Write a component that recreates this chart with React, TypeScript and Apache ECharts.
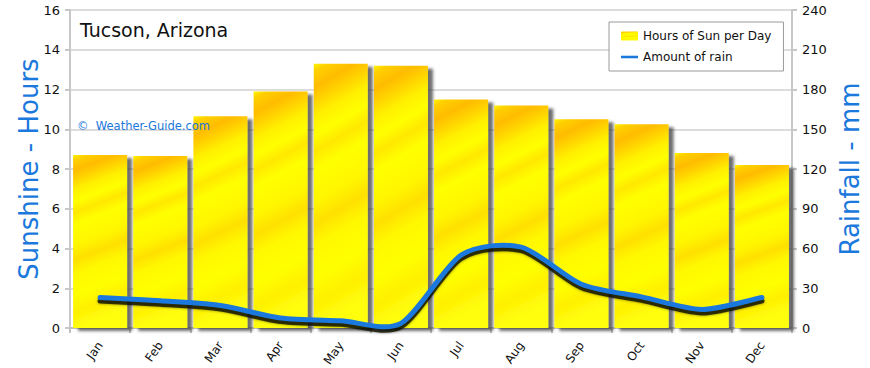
import React, { useEffect, useRef } from "react";
import * as echarts from "echarts";

const months = ["Jan", "Feb", "Mar", "Apr", "May", "Jun", "Jul", "Aug", "Sep", "Oct", "Nov", "Dec"];
const sunHours = [8.7, 8.65, 10.65, 11.9, 13.3, 13.2, 11.5, 11.2, 10.5, 10.25, 8.8, 8.2];
const rainMm = [23, 20.5, 17, 7.5, 5.5, 3.5, 55, 61, 33, 23.5, 14, 23];
const sunTicks = { min: 0, max: 16, interval: 2 };
const rainTicks = { min: 0, max: 240, interval: 30 };

const BLUE = "#1b78dc";
const FONT = "'DejaVu Sans', sans-serif";

function splinePath(pts: number[][], k: number): string {
  if (!pts.length) return "";
  let d = `M${pts[0][0]},${pts[0][1]}`;
  for (let i = 0; i < pts.length - 1; i++) {
    const p0 = pts[Math.max(0, i - 1)];
    const p1 = pts[i];
    const p2 = pts[i + 1];
    const p3 = pts[Math.min(pts.length - 1, i + 2)];
    const c1x = p1[0] + (k * (p2[0] - p0[0])) / 6;
    const c1y = p1[1] + (k * (p2[1] - p0[1])) / 6;
    const c2x = p2[0] - (k * (p3[0] - p1[0])) / 6;
    const c2y = p2[1] - (k * (p3[1] - p1[1])) / 6;
    d += ` C${c1x},${c1y} ${c2x},${c2y} ${p2[0]},${p2[1]}`;
  }
  return d;
}

export default function App() {
  const ref = useRef<HTMLDivElement>(null);
  useEffect(() => {
    if (!ref.current) return;
    const chart = echarts.init(ref.current, undefined, { renderer: "svg" });
    const barFill = new echarts.graphic.LinearGradient(0, 0, 0.12, 1, [
      { offset: 0, color: "#fff400" },
      { offset: 0.03, color: "#ffd000" },
      { offset: 0.09, color: "#ffbc00" },
      { offset: 0.14, color: "#ffd200" },
      { offset: 0.2, color: "#fff000" },
      { offset: 0.27, color: "#ffff00" },
      { offset: 0.33, color: "#ffe800" },
      { offset: 0.4, color: "#ffff00" },
      { offset: 0.52, color: "#fff600" },
      { offset: 0.6, color: "#ffe000" },
      { offset: 0.68, color: "#fff800" },
      { offset: 0.8, color: "#ffff00" },
      { offset: 0.9, color: "#fff000" },
      { offset: 1, color: "#ffff10" },
    ]);
    chart.setOption({
      animation: false,
      backgroundColor: "#ffffff",
      textStyle: { fontFamily: FONT },
      grid: { left: 70, right: 78, top: 10, bottom: 40, containLabel: false, outerBoundsMode: "none" },
      legend: {
        orient: "vertical",
        left: 609,
        top: 22,
        width: 176,
        backgroundColor: "#ffffff",
        borderColor: "#9a9a9a",
        borderWidth: 1,
        borderRadius: 0,
        padding: [8, 12, 8, 12],
        itemGap: 9,
        itemWidth: 17,
        itemHeight: 9,
        textStyle: { fontFamily: FONT, fontSize: 12, color: "#111" },
        data: [
          { name: "Hours of Sun per Day", icon: "rect" },
          { name: "Amount of rain", icon: "path://M0,4 L20,4 L20,7 L0,7 Z" },
        ],
      },
      graphic: [
        {
          type: "text",
          left: 80,
          top: 20,
          z: 100,
          style: { text: "Tucson, Arizona", fontFamily: FONT, fontSize: 19, fill: "#111" },
        },
        {
          type: "text",
          left: 77,
          top: 120,
          z: 100,
          style: { text: "©  Weather-Guide.com", fontFamily: FONT, fontSize: 11.5, fill: BLUE },
        },
      ],
      xAxis: {
        type: "category",
        data: months,
        boundaryGap: true,
        axisLine: { show: true, lineStyle: { color: "#c0c0c0", width: 2 } },
        axisTick: { show: true, length: 5, lineStyle: { color: "#c0c0c0", width: 2 } },
        axisLabel: { rotate: 55, fontSize: 12, color: "#111", margin: 15, fontFamily: FONT },
        splitLine: { show: false },
      },
      yAxis: [
        {
          type: "value",
          ...sunTicks,
          name: "Sunshine - Hours",
          nameLocation: "middle",
          nameGap: 28,
          nameMoveOverlap: false,
          nameRotate: 90,
          nameTextStyle: { color: BLUE, fontSize: 26, fontFamily: FONT },
          axisLine: { show: true, lineStyle: { color: "#c8c8c8", width: 2 } },
          axisTick: { show: true, length: 5, lineStyle: { color: "#c8c8c8", width: 2 } },
          axisLabel: { fontSize: 13, color: "#111", margin: 10, fontFamily: FONT },
          splitLine: { show: true, lineStyle: { color: "#dcdcdc", width: 2 } },
        },
        {
          type: "value",
          ...rainTicks,
          name: "Rainfall - mm",
          nameLocation: "middle",
          nameGap: 45,
          nameMoveOverlap: false,
          nameRotate: 90,
          nameTextStyle: { color: BLUE, fontSize: 26, fontFamily: FONT },
          axisLine: { show: true, lineStyle: { color: "#c8c8c8", width: 2 } },
          axisTick: { show: true, length: 5, lineStyle: { color: "#c8c8c8", width: 2 } },
          axisLabel: { fontSize: 13, color: "#111", margin: 10, fontFamily: FONT },
          splitLine: { show: false },
        },
      ],
      series: [
        {
          name: "Hours of Sun per Day",
          type: "bar",
          yAxisIndex: 0,
          data: sunHours,
          barWidth: 54,
          itemStyle: {
            color: barFill,
            shadowColor: "rgba(60,60,60,0.75)",
            shadowBlur: 3,
            shadowOffsetX: 5,
            shadowOffsetY: 3,
          },
        },
        {
          name: "Amount of rain",
          type: "custom",
          yAxisIndex: 1,
          data: rainMm.map((v, i) => [i, v]),
          encode: { x: 0, y: 1 },
          itemStyle: { color: BLUE },
          z: 5,
          renderItem: (params: any, api: any) => {
            if (params.dataIndex !== 0) return null;
            const pts = rainMm.map((v, i) => api.coord([i, v]));
            const d = splinePath(pts, 0.8);
            return {
              type: "group",
              children: [
                {
                  type: "path",
                  shape: { pathData: d },
                  style: {
                    fill: "none",
                    stroke: "rgba(20,20,0,0.8)",
                    lineWidth: 5,
                    lineCap: "round",
                    shadowColor: "rgba(0,0,0,0.6)",
                    shadowBlur: 3,
                  },
                  y: 3.5,
                },
                {
                  type: "path",
                  shape: { pathData: d },
                  style: { fill: "none", stroke: BLUE, lineWidth: 5, lineCap: "round" },
                },
              ],
            };
          },
        },
      ],
    });
    return () => chart.dispose();
  }, []);
  return <div ref={ref} style={{ position: "absolute", left: 0, top: 0, width: 870, height: 368 }} />;
}
